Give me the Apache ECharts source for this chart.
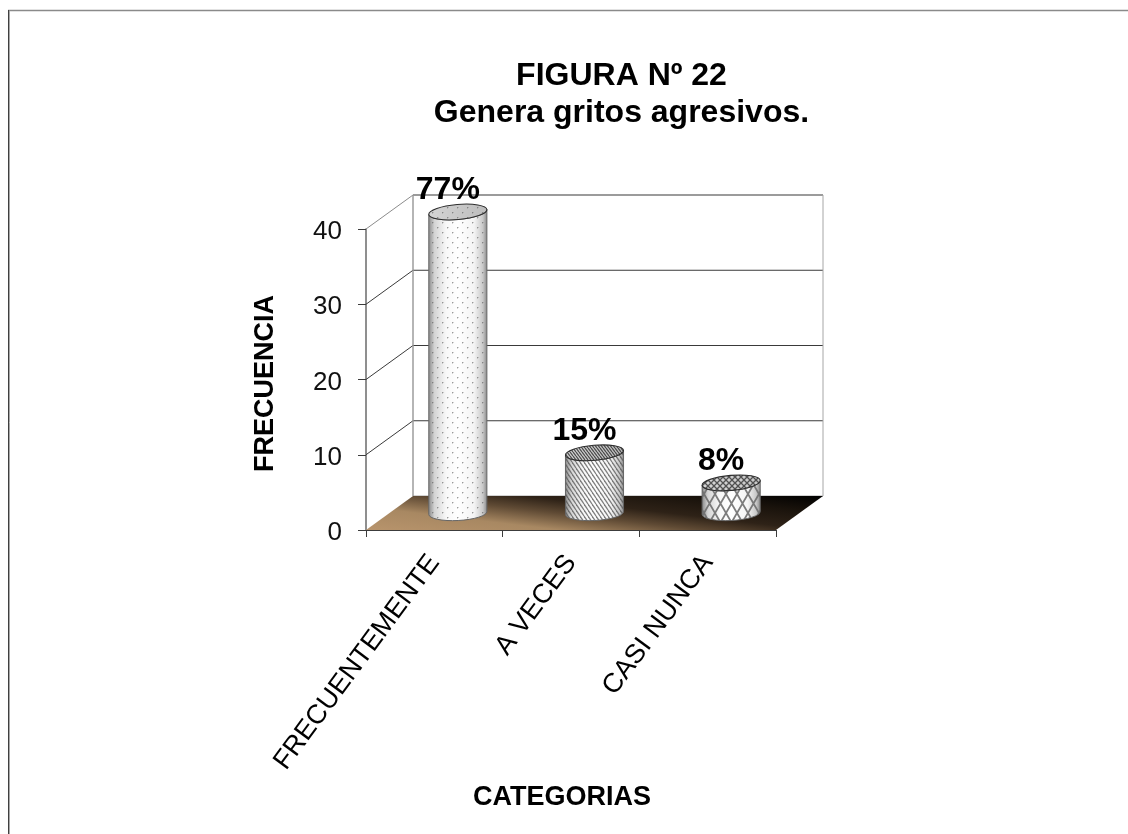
<!DOCTYPE html>
<html><head><meta charset="utf-8">
<style>html,body{margin:0;padding:0;background:#fff}#c{width:1128px;height:834px}</style>
<script src="https://cdn.jsdelivr.net/npm/echarts@6/dist/echarts.min.js"></script>
</head><body><div id="c"></div>
<script>
const categories = ['FRECUENTEMENTE', 'A VECES', 'CASI NUNCA'];
const frequency = [40, 8, 4];
const percentLabels = ['77%', '15%', '8%'];
const yTicks = [0, 10, 20, 30, 40];
const titleLines = 'FIGURA Nº 22\nGenera gritos agresivos.';
const xName = 'CATEGORIAS';
const yName = 'FRECUENCIA';

const DEPTH_X = 47, DEPTH_Y = -34;
const FONT = '"Liberation Sans", Arial, sans-serif';

function tile(w, h, draw) {
  const c = document.createElement('canvas');
  c.width = w; c.height = h;
  draw(c.getContext('2d'), w, h);
  return c;
}
const dots = tile(10, 10, (g) => {
  g.fillStyle = 'rgba(90,90,90,.6)';
  g.fillRect(2, 2, 1, 1); g.fillRect(7, 7, 1, 1);
  g.fillStyle = 'rgba(120,120,120,.3)';
  g.fillRect(3, 2, 1, 1); g.fillRect(2, 3, 1, 1); g.fillRect(8, 7, 1, 1); g.fillRect(7, 8, 1, 1);
});
function diag(w, h, color, lw) {
  return tile(w, h, (g) => {
    g.strokeStyle = color; g.lineWidth = lw;
    for (let i = -w; i <= w; i += w) { g.beginPath(); g.moveTo(i, 0); g.lineTo(i + w, h); g.stroke(); }
  });
}
const stripes = diag(4, 6, 'rgba(85,85,85,.75)', 1.3);
const stripesTop = diag(3, 4, 'rgba(40,40,40,.8)', 1.2);
function hatch(w, h, color, lw) {
  return tile(w, h, (g) => {
    g.strokeStyle = color; g.lineWidth = lw;
    g.beginPath(); g.moveTo(0, 0); g.lineTo(w, h); g.moveTo(w, 0); g.lineTo(0, h); g.stroke();
  });
}
const cross = hatch(11, 19, 'rgba(110,110,110,.9)', 1.8);
const crossTop = hatch(6, 6, 'rgba(50,50,50,.8)', 1.3);
const sidePatterns = [dots, stripes, cross];
const topPatterns = [dots, stripesTop, crossTop];
const topBase = ['#bdbdbd', '#bdbdbd', '#c8c8c8'];

function pat(img) { return { image: img, repeat: 'repeat' }; }

function renderGrid(params, api) {
  const v = api.value(0);
  const r = params.coordSys;
  const y = api.coord([0, v])[1];
  const x0 = r.x, x1 = r.x + r.width;
  const light = v === 40;
  return { type: 'group', children: [
    { type: 'line', shape: { x1: x0, y1: y, x2: x0 + DEPTH_X, y2: y + DEPTH_Y }, style: { stroke: light ? '#8c8c8c' : (v === 0 ? 'transparent' : '#3a3a3a'), lineWidth: 1 } },
    { type: 'line', shape: { x1: x0 + DEPTH_X, y1: y + DEPTH_Y, x2: x1 + DEPTH_X, y2: y + DEPTH_Y }, style: { stroke: v === 0 ? '#a6a6a6' : (light ? '#7a7a7a' : '#3a3a3a'), lineWidth: light ? 1.4 : 1 } }
  ] };
}
function renderWalls(params, api) {
  const r = params.coordSys;
  const top = api.coord([0, 40])[1], bot = api.coord([0, 0])[1];
  const x0 = r.x, x1 = r.x + r.width;
  return { type: 'group', children: [
    { type: 'line', shape: { x1: x0 + DEPTH_X, y1: top + DEPTH_Y, x2: x0 + DEPTH_X, y2: bot + DEPTH_Y }, style: { stroke: '#969696', lineWidth: 1.4 } },
    { type: 'line', shape: { x1: x1 + DEPTH_X, y1: top + DEPTH_Y, x2: x1 + DEPTH_X, y2: bot + DEPTH_Y }, style: { stroke: '#a6a6a6', lineWidth: 1 } },
    { type: 'polygon', z2: 2, shape: { points: [[x0, bot], [x0 + DEPTH_X, bot + DEPTH_Y], [x1 + DEPTH_X, bot + DEPTH_Y], [x1, bot]] },
      style: { fill: new echarts.graphic.LinearGradient(x0, bot, x0 + 10.3, bot - 87, [
        { offset: 0, color: '#b8946c' }, { offset: 0.26, color: '#a88862' }, { offset: 0.45, color: '#5f4a34' },
        { offset: 0.6, color: '#2e2217' }, { offset: 0.8, color: '#1a130c' }, { offset: 1, color: '#000000' }], true) } }
  ] };
}
function renderBar(params, api) {
  const i = api.value(0), val = api.value(1);
  const base = api.coord([i, 0]), top = api.coord([i, val]);
  const rx = api.size([1, 0])[0] * 0.2125, ry = 7.5, tiltT = 2.5, tiltB = 1.5;
  const cx = base[0] + DEPTH_X / 2, by = base[1] + DEPTH_Y / 2, ty = top[1] + DEPTH_Y / 2;
  const l = cx - rx, rr = cx + rx;
  const rotT = -4.9, rotB = -3;
  const side = `M${l} ${ty + tiltT}L${l} ${by + tiltB}A${rx} ${ry} ${rotB} 0 0 ${rr} ${by - tiltB}L${rr} ${ty - tiltT}A${rx} ${ry} ${rotT} 0 1 ${l} ${ty + tiltT}Z`;
  const cap = `M${l} ${ty + tiltT}A${rx} ${ry} ${rotT} 0 1 ${rr} ${ty - tiltT}A${rx} ${ry} ${rotT} 0 1 ${l} ${ty + tiltT}Z`;
  const shade = new echarts.graphic.LinearGradient(0, 0, 1, 0, [
    { offset: 0, color: '#8a8a8a' }, { offset: 0.1, color: '#d4d4d4' }, { offset: 0.3, color: '#f8f8f8' },
    { offset: 0.5, color: '#ffffff' }, { offset: 0.78, color: '#f4f4f4' }, { offset: 0.93, color: '#c8c8c8' }, { offset: 1, color: '#8a8a8a' }]);
  const topShade = new echarts.graphic.LinearGradient(0, 0, 1, 0, [
    { offset: 0, color: '#d4d4d4' }, { offset: 1, color: topBase[i] }]);
  return { type: 'group', children: [
    { type: 'path', shape: { pathData: side }, style: { fill: shade } },
    { type: 'path', shape: { pathData: side }, style: { fill: pat(sidePatterns[i]) } },
    { type: 'path', shape: { pathData: side }, style: { fill: 'none', stroke: '#666', lineWidth: 1 } },
    { type: 'path', shape: { pathData: cap }, style: { fill: topShade } },
    { type: 'path', shape: { pathData: cap }, style: { fill: pat(topPatterns[i]), stroke: '#2e2e2e', lineWidth: 1.1 } },
    { type: 'text', style: { text: percentLabels[i], x: cx - 10, y: ty - 22, align: 'center', verticalAlign: 'middle',
        font: 'bold 32px ' + FONT, fill: '#000' }, z2: 10 }
  ] };
}

const chart = echarts.init(document.getElementById('c'), null, { renderer: 'canvas' });
chart.setOption({
  animation: false,
  backgroundColor: '#fff',
  title: { text: titleLines, left: 616.5, top: 53, textAlign: 'center',
    textStyle: { fontFamily: FONT, fontWeight: 'bold', fontSize: 32, lineHeight: 37, color: '#000' } },
  grid: { left: 366, right: 352, top: 229, bottom: 304, containLabel: false },
  xAxis: { type: 'category', data: categories, boundaryGap: true,
    name: xName, nameLocation: 'middle', nameGap: 254,
    nameTextStyle: { fontFamily: FONT, fontWeight: 'bold', fontSize: 27, color: '#000', padding: [0, 18, 0, 0] },
    axisLine: { lineStyle: { color: '#3c3c3c', width: 1 } },
    axisTick: { show: true, alignWithLabel: false, length: 7, lineStyle: { color: '#3c3c3c' } },
    axisLabel: { rotate: 53.5, interval: 0, margin: 28, fontFamily: FONT, fontSize: 27, color: '#000' },
    splitLine: { show: false } },
  yAxis: { type: 'value', min: 0, max: 40, interval: 10,
    name: yName, nameLocation: 'middle', nameGap: 87, nameRotate: 90,
    nameTextStyle: { fontFamily: FONT, fontWeight: 'bold', fontSize: 27, color: '#000', padding: [0, 8, 0, 0] },
    axisLine: { show: true, lineStyle: { color: '#6a6a6a', width: 1.5 } },
    axisTick: { show: true, length: 8, lineStyle: { color: '#3c3c3c' } },
    axisLabel: { margin: 24, fontFamily: FONT, fontSize: 26, color: '#111', verticalAlign: 'top', lineHeight: 6 },
    splitLine: { show: false } },
  graphic: [
    { type: 'line', shape: { x1: 8, y1: 10.5, x2: 1128, y2: 10.5 }, style: { stroke: '#8a8a8a', lineWidth: 1.3 } },
    { type: 'line', shape: { x1: 8.5, y1: 10, x2: 8.5, y2: 834 }, style: { stroke: '#404040', lineWidth: 1 } },
    { type: 'line', shape: { x1: 9.5, y1: 11, x2: 9.5, y2: 834 }, style: { stroke: '#a8a8a8', lineWidth: 1 } }
  ],
  series: [
    { type: 'custom', z: 1, silent: true, data: yTicks.map(v => [v]), renderItem: renderGrid, encode: { y: 0 } },
    { type: 'custom', z: 2, silent: true, data: [[0]], renderItem: renderWalls, encode: { y: 0 } },
    { type: 'custom', z: 5, silent: true, data: frequency.map((v, i) => [i, v]), renderItem: renderBar, encode: { x: 0, y: 1 } }
  ]
});
</script></body></html>
